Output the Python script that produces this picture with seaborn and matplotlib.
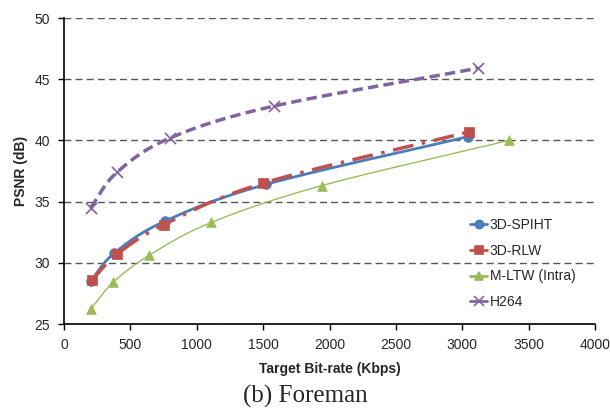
import matplotlib
matplotlib.use("Agg")
import matplotlib.pyplot as plt
import seaborn as sns
import numpy as np
import pandas as pd

# values
spiht_rate = [200, 380, 760, 1520, 3040]
spiht_psnr = [28.5, 30.8, 33.4, 36.4, 40.3]
rlw_rate = [210, 400, 750, 1500, 3050]
rlw_psnr = [28.6, 30.7, 33.1, 36.5, 40.7]
mltw_rate = [200, 370, 640, 1110, 1940, 3350]
mltw_psnr = [26.2, 28.4, 30.6, 33.3, 36.3, 40.0]
h264_rate = [200, 400, 800, 1580, 3120]
h264_psnr = [34.5, 37.4, 40.2, 42.8, 45.9]

x_ticks = [0, 500, 1000, 1500, 2000, 2500, 3000, 3500, 4000]
y_ticks = [25, 30, 35, 40, 45, 50]


def smooth(x, y, n=30):
    """Catmull-Rom curve through the points, like Excel's smoothed lines."""
    p = np.column_stack([x, y]).astype(float)
    p = np.vstack([2 * p[0] - p[1], p, 2 * p[-1] - p[-2]])
    t = np.linspace(0, 1, n)[:, None]
    out = []
    for i in range(1, len(p) - 2):
        p0, p1, p2, p3 = p[i - 1], p[i], p[i + 1], p[i + 2]
        seg = 0.5 * ((2 * p1) + (-p0 + p2) * t
                     + (2 * p0 - 5 * p1 + 4 * p2 - p3) * t ** 2
                     + (-p0 + 3 * p1 - 3 * p2 + p3) * t ** 3)
        out.append(seg)
    s = np.vstack(out)
    return s[:, 0], s[:, 1]


series = [
    ("3D-SPIHT", spiht_rate, spiht_psnr, "#4A7EBB", "-", 2.0, "o", 7),
    ("3D-RLW", rlw_rate, rlw_psnr, "#C0504D", (0, (6, 2.5, 1, 2.5)), 2.5, "s", 7.5),
    ("M-LTW (Intra)", mltw_rate, mltw_psnr, "#9BBB59", "-", 1.0, "^", 7),
    ("H264", h264_rate, h264_psnr, "#8064A2", (0, (3, 1.5)), 2.5, "x", 8),
]

sns.set_style("white")
plt.rcParams["font.family"] = ["Liberation Sans", "DejaVu Sans"]

fig = plt.figure(figsize=(6.1, 4.15), dpi=100)
ax = fig.add_axes([64 / 610, 1 - 324 / 415, 531 / 610, 306 / 415])

for name, xs, ys, color, ls, lw, mk, ms in series:
    df = pd.DataFrame({"rate": xs, "psnr": ys})
    sx, sy = smooth(df["rate"], df["psnr"])
    ax.plot(sx, sy, color=color, linestyle=ls, lw=lw, zorder=3)
    sns.scatterplot(data=df, x="rate", y="psnr", ax=ax, marker=mk, s=ms ** 2,
                    color=color, edgecolor=color if mk != "x" else None,
                    linewidth=1.2 if mk == "x" else 0.5, zorder=4, legend=False)
    # legend proxy
    ax.plot([], [], color=color, linestyle="-", lw=2, marker=mk, markersize=ms * 0.85,
            markeredgewidth=1.2, label=name)

ax.set_xlim(0, 4000)
ax.set_ylim(25, 50)
ax.set_xticks(x_ticks)
ax.set_yticks(y_ticks)
ax.yaxis.grid(True, color="#555555", linestyle=(0, (5, 3)), lw=1)
ax.set_axisbelow(True)
for s in ["top", "right"]:
    ax.spines[s].set_visible(False)
for s in ["left", "bottom"]:
    ax.spines[s].set_color("black")
    ax.spines[s].set_linewidth(1.2)
ax.tick_params(axis="both", direction="out", length=4, width=1, color="black",
               labelsize=10, pad=6, bottom=True, left=True)

ax.set_xlabel("Target Bit-rate (Kbps)", fontsize=10, fontweight="bold", labelpad=7)
ax.set_ylabel("PSNR (dB)", fontsize=10, fontweight="bold", labelpad=5)

ax.legend(loc="upper left", bbox_to_anchor=(0.755, 0.365), frameon=False,
          fontsize=10, handlelength=1.2, handletextpad=0.2, labelspacing=0.85,
          borderaxespad=0)

fig.text(0.5, 1 - 396 / 415, "(b) Foreman", ha="center", va="center",
         fontsize=18, family=["Liberation Serif", "DejaVu Serif"])

fig.savefig("out.png", dpi=100)
